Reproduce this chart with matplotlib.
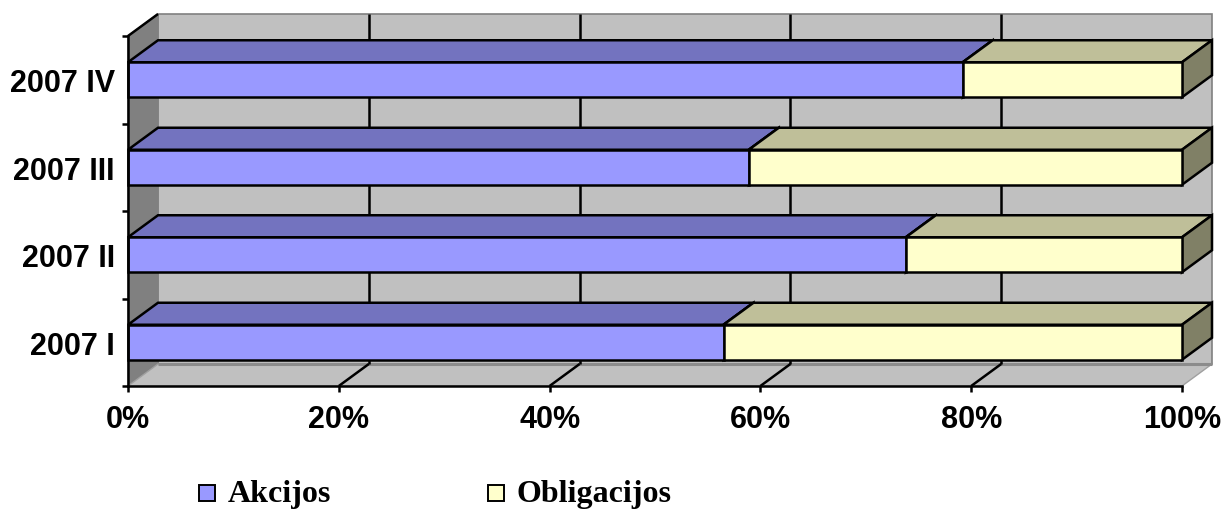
import matplotlib.pyplot as plt
from matplotlib.patches import Polygon, Rectangle

# quarterly portfolio split, percent of total
categories = ["2007 I", "2007 II", "2007 III", "2007 IV"]
akcijos = [56.5, 73.8, 58.9, 79.2]
obligacijos = [43.5, 26.2, 41.1, 20.8]
series_names = ["Akcijos", "Obligacijos"]
x_ticks = [0, 20, 40, 60, 80, 100]
x_labels = ["0%", "20%", "40%", "60%", "80%", "100%"]

W, H = 1224, 510
fig = plt.figure(figsize=(W / 100, H / 100), dpi=100)
# front plane of the 3d box
ax = fig.add_axes([128 / W, 123 / H, 1054 / W, 350 / H])
ax.set_xlim(0, 100)
ax.set_ylim(0, len(categories))

# depth offset of the back plane (30 px right, 22 px up)
DX = 30 / 1054 * 100
DY = 22 / 87.5
LW = 1.8
BAR_H = 0.4

face_cols = {
    "Akcijos": ("#9999FF", "#7373BF", "#5C5C99"),
    "Obligacijos": ("#FFFFCC", "#BFBF99", "#808066"),
}


def poly(pts, fc, ec="black", lw=LW, z=1):
    p = Polygon(pts, closed=True, facecolor=fc, edgecolor=ec, linewidth=lw,
                joinstyle="miter", clip_on=False, zorder=z)
    ax.add_patch(p)


def line(xs, ys, c="black", lw=LW, z=2):
    ax.plot(xs, ys, color=c, linewidth=lw, clip_on=False, zorder=z,
            solid_capstyle="butt")


n = len(categories)
# walls and floor
poly([(DX, DY), (100 + DX, DY), (100 + DX, n + DY), (DX, n + DY)], "#C0C0C0", ec="#808080", lw=1.2, z=1)
poly([(0, 0), (DX, DY), (DX, n + DY), (0, n)], "#808080", ec="#808080", lw=1.0, z=1)
poly([(0, 0), (100, 0), (100 + DX, DY), (DX, DY)], "#C0C0C0", ec="#A0A0A0", lw=1.0, z=1)
line([DX, 100 + DX], [DY, DY], c="#8C8C8C", lw=2.2, z=1.5)
line([0, DX], [n, n + DY], z=1.6)

# gridlines on back wall and floor
for t in x_ticks[1:-1]:
    line([t + DX, t + DX], [DY, n + DY], z=1.5)
    line([t, t + DX], [0, DY], z=1.5)

# stacked 3d bars
for i, cat in enumerate(categories):
    y0 = i + 0.5 - BAR_H / 2
    y1 = i + 0.5 + BAR_H / 2
    left = 0
    for name, vals in zip(series_names, [akcijos, obligacijos]):
        right = left + vals[i]
        front, top, side = face_cols[name]
        poly([(left, y1), (right, y1), (right + DX, y1 + DY), (left + DX, y1 + DY)], top, z=3)
        poly([(right, y0), (right + DX, y0 + DY), (right + DX, y1 + DY), (right, y1)], side, z=3)
        poly([(left, y0), (right, y0), (right, y1), (left, y1)], front, z=3)
        left = right

# axes: front left edge and front floor edge
for s in ["top", "right"]:
    ax.spines[s].set_visible(False)
for s in ["left", "bottom"]:
    ax.spines[s].set_linewidth(LW)
    ax.spines[s].set_zorder(4)
ax.patch.set_visible(False)

tick_font = dict(family="Liberation Sans", weight="bold", size=22)
ax.set_xticks(x_ticks)
ax.set_xticklabels(x_labels, fontdict=tick_font)
ax.tick_params(axis="x", length=6 * 0.72, width=LW, pad=8.5)
ax.set_yticks([i + 0.5 for i in range(n)])
ax.set_yticklabels(categories, fontdict=tick_font)
ax.tick_params(axis="y", which="major", length=0, pad=9.5)
ax.set_yticks(range(n + 1), minor=True)
ax.tick_params(axis="y", which="minor", length=6 * 0.72, width=LW)

# legend
leg_items = [(199, "Akcijos", "#9999FF"), (488, "Obligacijos", "#FFFFCC")]
for px, label, col in leg_items:
    fig.add_artist(Rectangle((px / W, (H - 502) / H), 16 / W, 16 / H, transform=fig.transFigure,
                             facecolor=col, edgecolor="black", linewidth=1.4))
    fig.text((px + 29) / W, (H - 502) / H, label, family="Liberation Serif", weight="bold",
             size=23, va="baseline", ha="left")

fig.savefig("out.png", dpi=100)
